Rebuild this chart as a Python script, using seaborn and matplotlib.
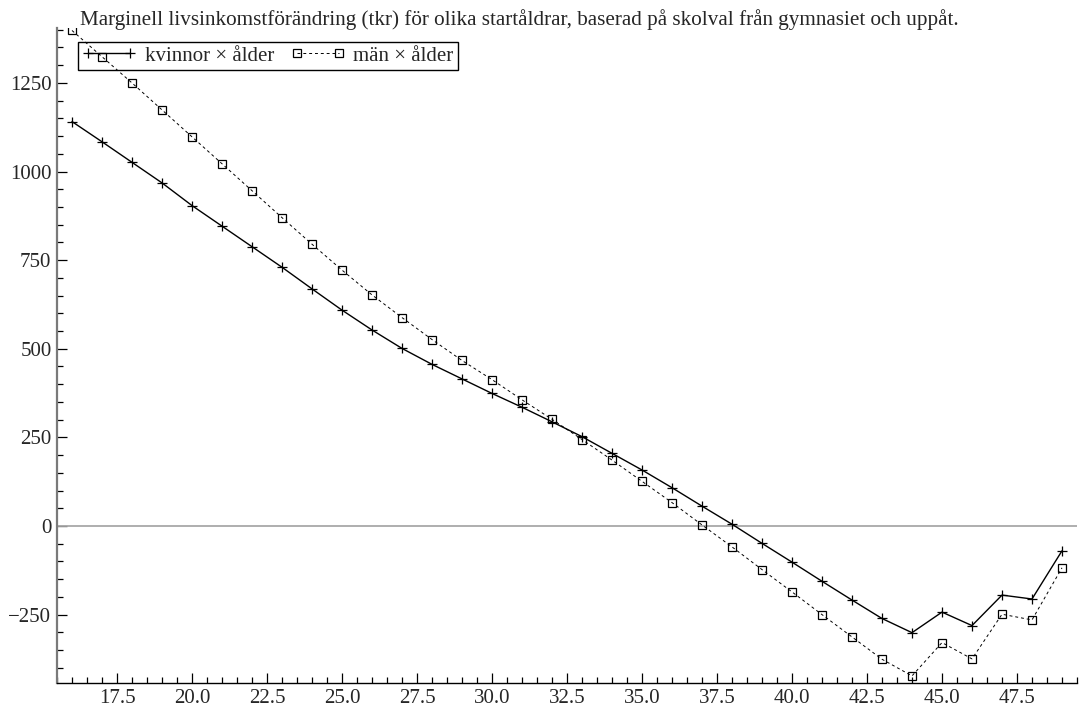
import numpy as np
import pandas as pd
import matplotlib
matplotlib.use("Agg")
import matplotlib.pyplot as plt
from matplotlib.ticker import MultipleLocator
import seaborn as sns

# Start age of the education choice
ages = list(range(16, 50))

# Marginal lifetime income change (tkr), women
kvinnor = [1141, 1084, 1026, 968, 904, 846, 788, 730, 669, 609, 553, 501,
           456, 415, 374, 335, 294, 252, 205, 158, 108, 56, 5, -49, -102,
           -156, -209, -261, -301, -243, -281, -195, -206, -70]

# Marginal lifetime income change (tkr), men
man = [1398, 1324, 1250, 1174, 1098, 1022, 946, 870, 795, 722, 652, 588,
       526, 467, 413, 356, 301, 244, 186, 126, 66, 3, -59, -123, -186,
       -250, -313, -376, -423, -329, -375, -249, -265, -118]

title = ("Marginell livsinkomstförändring (tkr) för olika startåldrar, "
         "baserad på skolval från gymnasiet och uppåt.")
label_k = "kvinnor × ålder"
label_m = "män × ålder"

df = pd.DataFrame({"ålder": ages, "kvinnor": kvinnor, "män": man})

sns.set_style("ticks")
plt.rcParams["font.family"] = ["Liberation Serif", "DejaVu Serif"]
plt.rcParams["axes.unicode_minus"] = True

W, H = 1083, 711
fig = plt.figure(figsize=(W / 100, H / 100), dpi=100)
left, right, top, bottom = 57, 1077, 28, 683
ax = fig.add_axes([left / W, (H - bottom) / H, (right - left) / W, (bottom - top) / H])

ax.axhline(0, color="#a8a8a8", lw=1.3, zorder=1)

sns.lineplot(data=df, x="ålder", y="kvinnor", ax=ax, color="black", lw=1.0,
             marker="+", markersize=6.5, markeredgewidth=0.9,
             markeredgecolor="black", label=label_k, zorder=3)
sns.lineplot(data=df, x="ålder", y="män", ax=ax, color="black", lw=0.7,
             marker="s", markersize=5.5, markerfacecolor="none",
             markeredgecolor="black", markeredgewidth=0.9, label=label_m,
             zorder=3)
for ln in ax.get_lines():
    if ln.get_label() == label_m:
        ln.set_linestyle((0, (3.0, 3.0)))

ax.set_xlim(15.5, 49.5)
ax.set_ylim(-443, 1405)
ax.xaxis.set_major_locator(MultipleLocator(2.5))
ax.xaxis.set_minor_locator(MultipleLocator(0.5))
ax.yaxis.set_major_locator(MultipleLocator(250))
ax.yaxis.set_minor_locator(MultipleLocator(50))
ax.xaxis.set_major_formatter(matplotlib.ticker.FormatStrFormatter("%.1f"))
ax.set_xlabel("")
ax.set_ylabel("")

ax.tick_params(which="major", direction="in", length=7, width=0.9,
               labelsize=15, color="black", pad=4)
ax.tick_params(which="minor", direction="in", length=4, width=0.9,
               color="black")

for s in ("top", "right"):
    ax.spines[s].set_visible(False)
ax.spines["left"].set_color("#7a7a7a")
ax.spines["left"].set_linewidth(1.6)
ax.spines["bottom"].set_color("black")
ax.spines["bottom"].set_linewidth(1.0)

leg = ax.legend(loc="upper left", bbox_to_anchor=(78 / W, 1 - 42 / H),
                bbox_transform=fig.transFigure, ncol=2, fontsize=15,
                frameon=True, fancybox=False, framealpha=1, facecolor="none",
                edgecolor="black", borderpad=0.2, borderaxespad=0,
                handlelength=2.6, handletextpad=0.4, columnspacing=0.8,
                numpoints=2)
leg.get_frame().set_linewidth(1.0)
leg.set_zorder(2)

fig.text(80 / W, 1 - 25 / H, title, ha="left", va="baseline", fontsize=15.2)

fig.savefig("out.png", dpi=100)
